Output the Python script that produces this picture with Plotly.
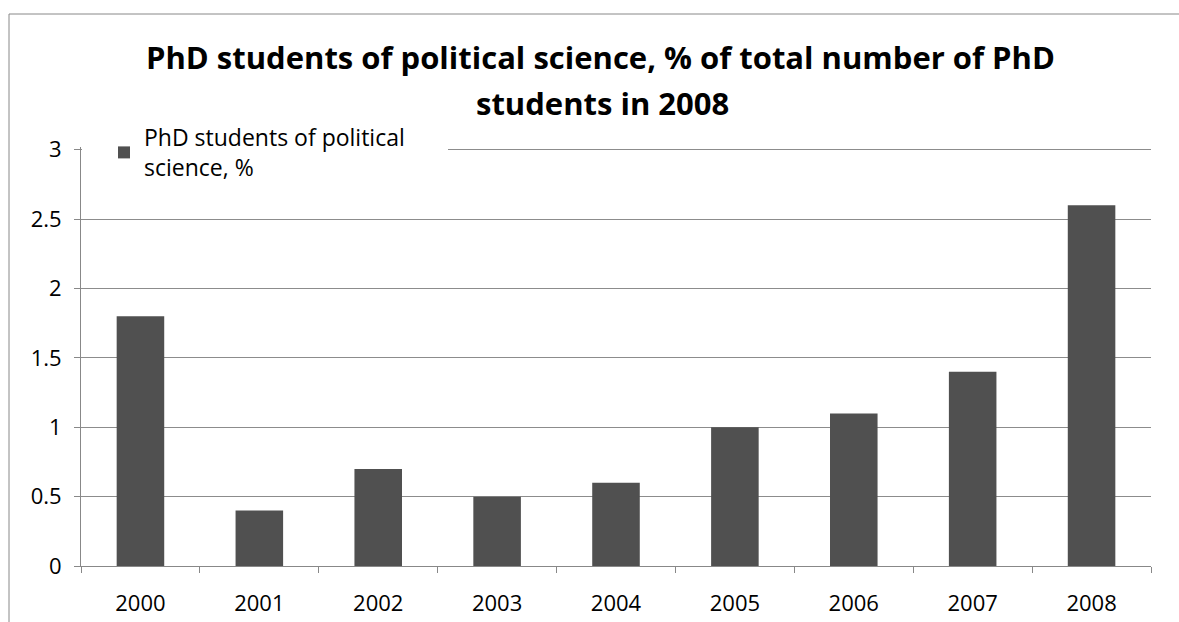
import plotly.graph_objects as go

years = ["2000", "2001", "2002", "2003", "2004", "2005", "2006", "2007", "2008"]
share_pct = [1.8, 0.4, 0.7, 0.5, 0.6, 1.0, 1.1, 1.4, 2.6]
series_name = "PhD students of political<br>science, %"
title_lines = ["PhD students of political science, % of total number of PhD",
               "students in 2008"]
y_ticks = [0, 0.5, 1, 1.5, 2, 2.5, 3]
y_tick_labels = ["0", "0.5", "1", "1.5", "2", "2.5", "3"]

W, H = 1179, 622
L, R, T, B = 81, 28, 147, 56
pw, ph = W - L - R, H - T - B

def px_x(x):
    return (x - L) / pw

def px_y(y):
    return (H - B - y) / ph

fig = go.Figure(go.Bar(
    x=years, y=share_pct, name=series_name,
    marker=dict(color="#505050", line=dict(width=0)),
    showlegend=True,
))

font_family = "Open Sans, Liberation Sans, sans-serif"
title_font = dict(family=font_family, size=31, color="#000000", weight="bold")

fig.update_layout(
    width=W, height=H,
    margin=dict(l=L, r=R, t=T, b=B, autoexpand=False),
    paper_bgcolor="white", plot_bgcolor="white",
    bargap=0.6,
    font=dict(family=font_family, size=22, color="#000000"),
    legend=dict(
        x=px_x(104), xanchor="left", y=px_y(116), yanchor="top",
        bgcolor="white", borderwidth=0,
        font=dict(family=font_family, size=23, color="#000000"),
        itemsizing="constant",
        tracegroupgap=0,
    ),
    xaxis=dict(
        type="category", automargin=False,
        showline=True, linecolor="#888888", linewidth=1,
        ticks="outside", tickson="boundaries", ticklen=6, tickcolor="#888888",
        tickfont=dict(family=font_family, size=22, color="#000000"),
        showgrid=False,
        ticklabelstandoff=18,
    ),
    yaxis=dict(
        range=[0, 3.02], automargin=False,
        tickvals=y_ticks, ticktext=y_tick_labels,
        showline=True, linecolor="#888888", linewidth=1,
        ticks="outside", ticklen=6, tickcolor="#888888",
        tickfont=dict(family=font_family, size=22, color="#000000"),
        showgrid=True, gridcolor="#8c8c8c", gridwidth=1,
        zeroline=False,
        ticklabelstandoff=8,
    ),
    annotations=[
        dict(text=title_lines[0], xref="paper", yref="paper",
             x=px_x(600), y=px_y(57), xanchor="center", yanchor="middle",
             showarrow=False, font=title_font),
        dict(text=title_lines[1], xref="paper", yref="paper",
             x=px_x(602), y=px_y(103), xanchor="center", yanchor="middle",
             showarrow=False, font=title_font),
    ],
    shapes=[
        dict(
            type="rect", xref="paper", yref="paper",
            x0=px_x(9), x1=px_x(1250), y0=px_y(700), y1=px_y(14),
            line=dict(color="#888888", width=1), fillcolor="rgba(0,0,0,0)",
            layer="above",
        ),
        dict(
            type="rect", xref="paper", yref="paper",
            x0=px_x(82), x1=px_x(448), y0=px_y(156), y1=px_y(144),
            line=dict(width=0), fillcolor="white",
            layer="above",
        ),
    ],
)

fig.write_html("out.html")
